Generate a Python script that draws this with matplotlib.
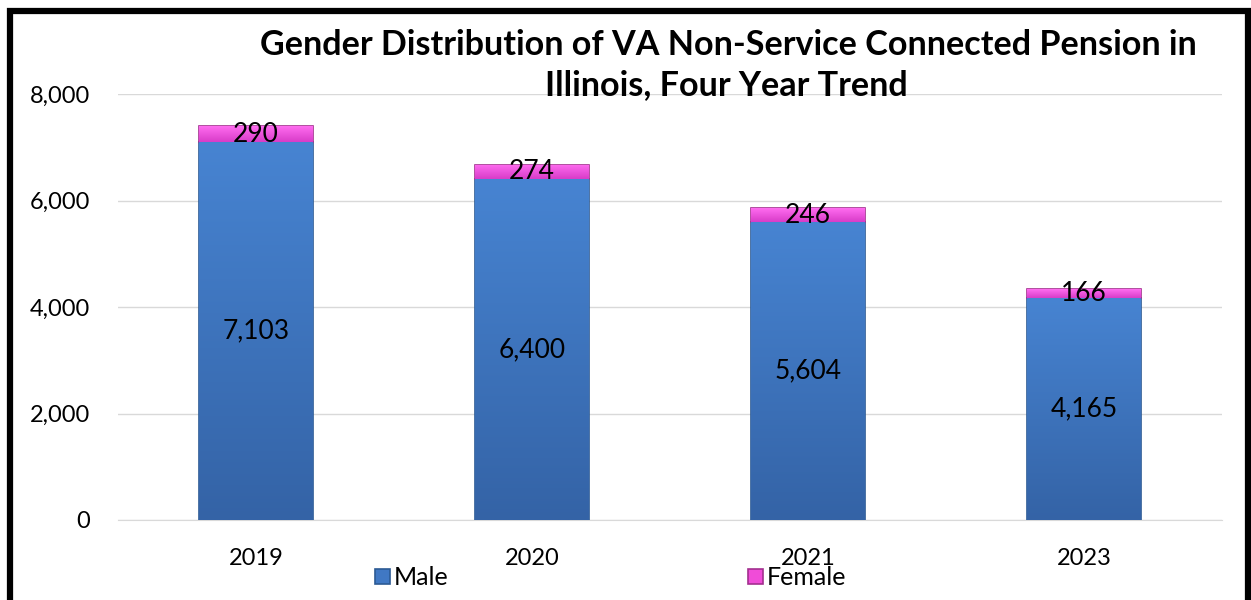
import matplotlib.pyplot as plt
import numpy as np
from matplotlib.colors import LinearSegmentedColormap
from matplotlib.patches import Rectangle

years = ['2019', '2020', '2021', '2023']
male = [7103, 6400, 5604, 4165]
female = [290, 274, 246, 166]

male_cmap = LinearSegmentedColormap.from_list('male', ['#3463a6', '#4784d2'])
female_cmap = LinearSegmentedColormap.from_list('female', ['#d83cc8', '#ff6cf0'])
male_edge = '#2c5a94'
female_edge = '#a3308f'

plt.rcParams['font.family'] = ['Lato', 'DejaVu Sans']

fig = plt.figure(figsize=(12.51, 6), dpi=100)

ax = fig.add_axes([118 / 1251, 80 / 600, 1104 / 1251, 426 / 600])
x = np.arange(len(years))
b1 = ax.bar(x, male, width=0.41, color='#4078c4', edgecolor=male_edge, linewidth=1.2, label='Male', zorder=3)
b2 = ax.bar(x, female, width=0.41, bottom=male, color='#f04cd8', edgecolor=female_edge,
            linewidth=1.2, label='Female', zorder=3)

# vertical gradient inside each bar
grad = np.linspace(0, 1, 256).reshape(-1, 1)
for bars, cmap in [(b1, male_cmap), (b2, female_cmap)]:
    for p in bars:
        x0, y0 = p.get_x(), p.get_y()
        w, h = p.get_width(), p.get_height()
        im = ax.imshow(grad, cmap=cmap, origin='lower', aspect='auto',
                       extent=[x0, x0 + w, y0, y0 + h], zorder=3.1)
        im.set_clip_path(p)

for i in range(len(years)):
    ax.text(x[i], male[i] / 2, '{:,}'.format(male[i]), ha='center', va='center', fontsize=19, zorder=4)
    ax.text(x[i], male[i] + female[i] / 2, '{:,}'.format(female[i]), ha='center', va='center',
            fontsize=19, zorder=4)

ax.set_xlim(-0.5, len(years) - 0.5)
ax.set_ylim(0, 8000)
ax.set_yticks([0, 2000, 4000, 6000, 8000])
ax.set_yticklabels(['{:,}'.format(v) for v in [0, 2000, 4000, 6000, 8000]])
ax.set_xticks(x)
ax.set_xticklabels(years)
ax.tick_params(axis='both', length=0, labelsize=17)
ax.tick_params(axis='y', pad=20)
ax.tick_params(axis='x', pad=20)
ax.grid(axis='y', color='#d9d9d9', linewidth=1, zorder=0)
for s in ['top', 'right', 'left']:
    ax.spines[s].set_visible(False)
ax.spines['bottom'].set_color('#d9d9d9')

fig.text(0.582, 0.925, 'Gender Distribution of VA Non-Service Connected Pension in',
         ha='center', va='center', fontsize=24.6, fontweight='bold')
fig.text(0.581, 0.858, 'Illinois, Four Year Trend',
         ha='center', va='center', fontsize=24.6, fontweight='bold')

fig.legend(handles=[b1, b2], loc='center', bbox_to_anchor=(0.488, 0.037), ncol=2, frameon=False,
           fontsize=18, handlelength=0.6, handleheight=0.6, handletextpad=0.15, columnspacing=12.0)

# outer frame
fig.add_artist(Rectangle((10 / 1251, -0.01), 1238 / 1251, (606 - 11) / 600, transform=fig.transFigure,
                         fill=False, edgecolor='black', linewidth=4.5, clip_on=False))

fig.savefig('out.png', dpi=100)
